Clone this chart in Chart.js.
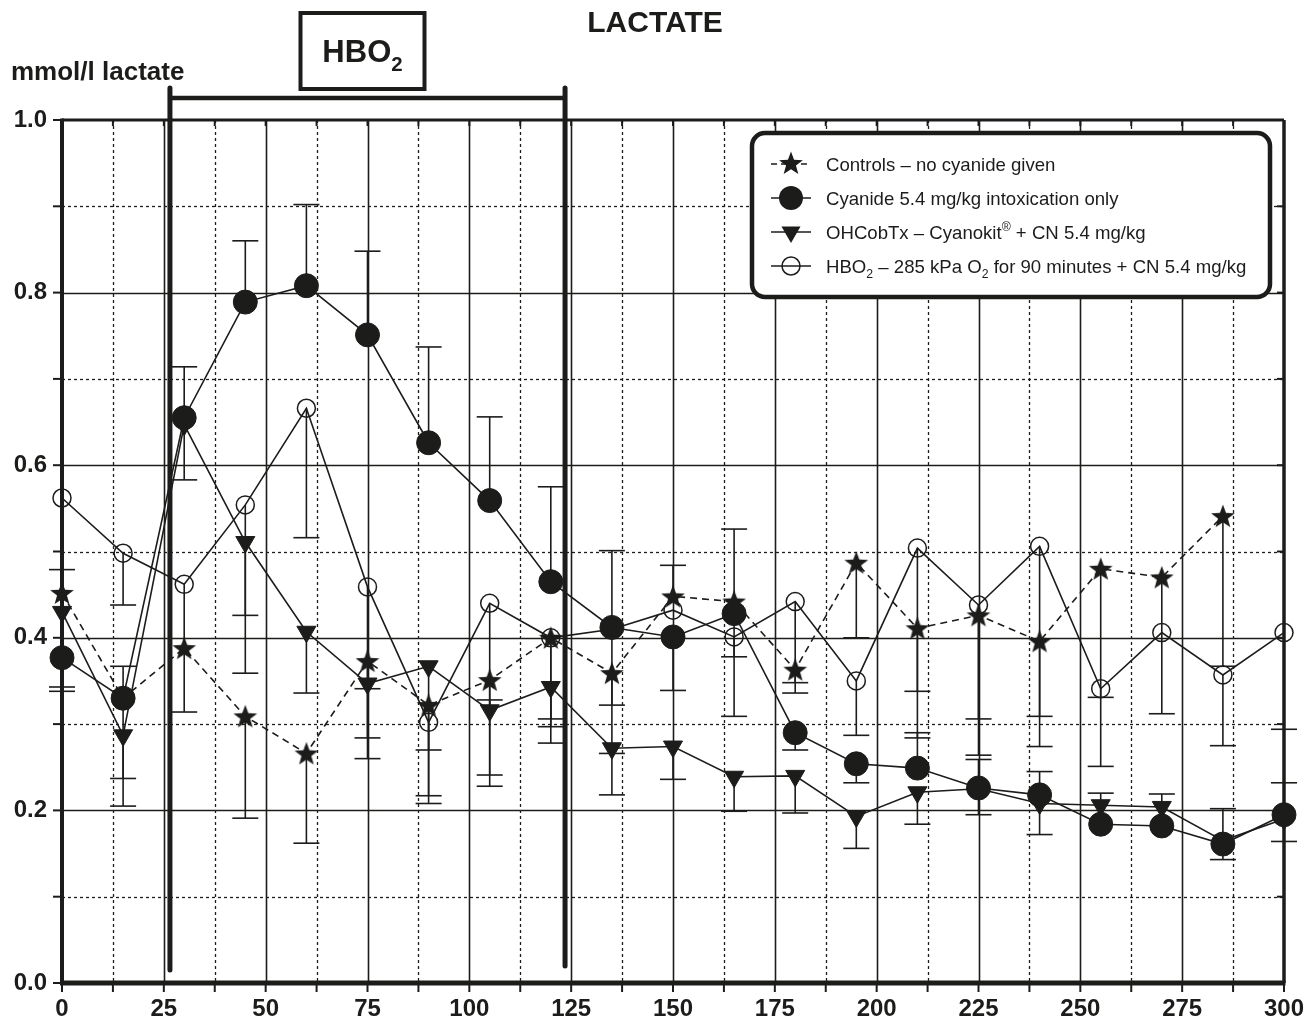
<!DOCTYPE html>
<html>
<head>
<meta charset="utf-8">
<script src="https://cdn.jsdelivr.net/npm/chart.js@4.4.1/dist/chart.umd.min.js"></script>
<style>
html,body{margin:0;padding:0;background:#fff;}
canvas{display:block;}
</style>
</head>
<body>
<canvas id="c" width="1307" height="1026"></canvas>
<script>
// ---------------- DATA ----------------
const times = [0,15,30,45,60,75,90,105,120,135,150,165,180,195,210,225,240,255,270,285,300];
const xTickLabels = [0,25,50,75,100,125,150,175,200,225,250,275,300];
const yTickLabels = ['0.0','0.2','0.4','0.6','0.8','1.0'];

const controls    = [0.452,0.330,0.388,0.309,0.266,0.373,0.322,0.351,0.400,0.359,0.448,0.442,0.363,0.487,0.411,0.426,0.396,0.480,0.470,0.541,null];
const controlsErr = [0.479,0.237,null,0.191,0.162,0.260,0.217,0.228,0.306,0.322,0.484,0.378,0.348,0.400,0.338,0.306,0.309,0.251,0.312,0.367,null];

const cyanide     = [0.377,0.330,0.655,0.789,0.808,0.751,0.626,0.559,0.465,0.412,0.401,0.428,0.290,0.254,0.249,0.226,0.218,0.184,0.182,0.161,0.195];
const cyanideErr  = [0.343,0.367,0.714,0.860,0.902,0.848,0.737,0.656,0.575,0.501,0.339,0.526,0.270,0.232,0.290,0.259,0.245,null,null,0.143,0.232];

const ohcob       = [0.430,0.287,0.647,0.511,0.407,0.347,0.367,0.316,0.343,0.272,0.274,0.239,0.240,0.193,0.221,0.225,0.208,0.206,0.204,0.165,0.190];
const ohcobErr    = [0.338,0.205,0.583,0.359,0.336,0.341,0.270,0.328,0.278,0.218,0.236,0.199,0.197,0.156,0.184,0.195,0.172,0.220,0.219,0.202,0.164];

const hbo         = [0.562,0.498,0.462,0.554,0.666,0.459,0.302,0.440,0.400,0.410,0.432,0.401,0.442,0.350,0.504,0.438,0.506,0.341,0.406,0.357,0.406];
const hboErr      = [null,0.438,0.314,0.426,0.516,0.284,0.208,0.241,0.297,0.266,null,0.309,0.336,0.287,0.284,0.264,0.274,0.331,null,0.275,0.294];

const hboPeriod = [26.5, 123.5];   // HBO2 treatment bracket (minutes)

const seriesLabels = [
  [{t:'Controls – no cyanide given'}],
  [{t:'Cyanide 5.4 mg/kg intoxication only'}],
  [{t:'OHCobTx – Cyanokit'},{t:'®',sup:true},{t:' + CN 5.4 mg/kg'}],
  [{t:'HBO'},{t:'2',sub:true},{t:' – 285 kPa O'},{t:'2',sub:true},{t:' for 90 minutes + CN 5.4 mg/kg'}]
];
const titleText = 'LACTATE';
const yAxisTitle = 'mmol/l lactate';

// ---------------- STYLE ----------------
const FONT = '"Liberation Sans", Arial, Helvetica, sans-serif';
const INK = '#1c1c1b';

function starPath(ctx, cx, cy, R, r) {
  ctx.beginPath();
  for (let i = 0; i < 10; i++) {
    const rad = i % 2 === 0 ? R : r;
    const a = -Math.PI / 2 + i * Math.PI / 5;
    const px = cx + rad * Math.cos(a), py = cy + rad * Math.sin(a);
    if (i === 0) ctx.moveTo(px, py); else ctx.lineTo(px, py);
  }
  ctx.closePath();
}
const starImg = document.createElement('canvas');
starImg.width = 28; starImg.height = 28;
{
  const s = starImg.getContext('2d');
  s.fillStyle = INK;
  starPath(s, 14, 15, 12.5, 5.2);
  s.fill();
}

function drawRich(ctx, segs, x, y, size, weight, measureOnly) {
  let cx = x;
  for (const s of segs) {
    const fs = (s.sub || s.sup) ? size * 0.66 : size;
    ctx.font = `${weight} ${fs}px ${FONT}`;
    const dy = s.sub ? size * 0.28 : (s.sup ? -size * 0.42 : 0);
    if (!measureOnly) ctx.fillText(s.t, cx, y + dy);
    cx += ctx.measureText(s.t).width;
  }
  return cx - x;
}

const mk = arr => times.map((t, i) => ({x: t, y: arr[i]}));

// ---------------- PLUGINS ----------------
const gridPlugin = {
  id: 'customGrid',
  beforeDatasetsDraw(chart) {
    const {ctx, chartArea: {left, right, top, bottom}, scales: {x, y}} = chart;
    ctx.save();
    ctx.strokeStyle = INK;
    // vertical grid
    for (let v = 12.5; v < 300; v += 12.5) {
      const px = Math.round(x.getPixelForValue(v)) + 0.5;
      const solid = Math.abs(v % 25) < 1e-6;
      ctx.lineWidth = solid ? 1.6 : 1.3;
      ctx.setLineDash(solid ? [] : [3, 3]);
      ctx.beginPath(); ctx.moveTo(px, top); ctx.lineTo(px, bottom); ctx.stroke();
    }
    // horizontal grid
    for (let k = 1; k < 10; k++) {
      const py = Math.round(y.getPixelForValue(k / 10)) + 0.5;
      const solid = k % 2 === 0;
      ctx.lineWidth = solid ? 1.6 : 1.3;
      ctx.setLineDash(solid ? [] : [3, 3]);
      ctx.beginPath(); ctx.moveTo(left, py); ctx.lineTo(right, py); ctx.stroke();
    }
    ctx.setLineDash([]);
    // ticks
    ctx.lineWidth = 2;
    for (let k = 0; k <= 10; k++) {
      const py = y.getPixelForValue(k / 10);
      ctx.beginPath(); ctx.moveTo(left - 9, py); ctx.lineTo(left, py); ctx.stroke();
      ctx.beginPath(); ctx.moveTo(right - 7, py); ctx.lineTo(right, py); ctx.stroke();
    }
    for (let v = 0; v <= 300; v += 12.5) {
      const px = x.getPixelForValue(v);
      ctx.beginPath(); ctx.moveTo(px, bottom); ctx.lineTo(px, bottom + 9); ctx.stroke();
      ctx.beginPath(); ctx.moveTo(px, top); ctx.lineTo(px, top + 6); ctx.stroke();
    }
    // frame
    ctx.lineWidth = 3;
    ctx.beginPath(); ctx.moveTo(left, top); ctx.lineTo(right, top); ctx.stroke();
    ctx.lineWidth = 3.5;
    ctx.beginPath(); ctx.moveTo(right, top); ctx.lineTo(right, bottom); ctx.stroke();
    ctx.lineWidth = 4;
    ctx.beginPath(); ctx.moveTo(left, top - 1.5); ctx.lineTo(left, bottom); ctx.stroke();
    ctx.lineWidth = 5;
    ctx.beginPath(); ctx.moveTo(left - 2, bottom); ctx.lineTo(right + 1.5, bottom); ctx.stroke();

    // error bars
    const series = [[controls, controlsErr], [cyanide, cyanideErr], [ohcob, ohcobErr], [hbo, hboErr]];
    ctx.lineWidth = 1.6;
    for (const [vals, errs] of series) {
      for (let i = 0; i < times.length; i++) {
        if (vals[i] == null || errs[i] == null) continue;
        const px = x.getPixelForValue(times[i]);
        const p1 = y.getPixelForValue(vals[i]);
        const p2 = y.getPixelForValue(errs[i]);
        ctx.beginPath(); ctx.moveTo(px, p1); ctx.lineTo(px, p2); ctx.stroke();
        ctx.beginPath(); ctx.moveTo(px - 13, p2); ctx.lineTo(px + 13, p2); ctx.stroke();
      }
    }
    ctx.restore();
  },
  afterDatasetsDraw(chart) {
    const {ctx, scales: {x, y}} = chart;
    ctx.save();
    ctx.strokeStyle = INK;
    ctx.fillStyle = INK;
    // HBO2 bracket
    const xa = x.getPixelForValue(hboPeriod[0]);
    const xb = x.getPixelForValue(hboPeriod[1]);
    const yb = y.getPixelForValue(0.015);
    ctx.lineWidth = 5;
    ctx.lineCap = 'round';
    ctx.beginPath(); ctx.moveTo(xa, 88); ctx.lineTo(xa, yb); ctx.stroke();
    ctx.beginPath(); ctx.moveTo(xb, 88); ctx.lineTo(xb, yb - 4); ctx.stroke();
    ctx.lineCap = 'butt';
    ctx.lineWidth = 4.5;
    ctx.beginPath(); ctx.moveTo(xa, 98); ctx.lineTo(xb, 98); ctx.stroke();
    // HBO2 box
    const mid = (xa + xb) / 2 - 5;
    ctx.lineWidth = 4;
    ctx.strokeRect(mid - 62, 13, 124, 76);
    const hboSegs = [{t:'HBO'},{t:'2',sub:true}];
    ctx.textBaseline = 'alphabetic';
    const w = drawRich(ctx, hboSegs, 0, 0, 31, 'bold', true);
    drawRich(ctx, hboSegs, mid - w / 2, 62, 31, 'bold');

    // title
    ctx.font = `bold 30px ${FONT}`;
    ctx.textAlign = 'center';
    ctx.fillText(titleText, 655, 32);
    ctx.textAlign = 'left';
    ctx.font = `bold 26px ${FONT}`;
    ctx.fillText(yAxisTitle, 11, 80);

    // legend
    const bx = 752, by = 133, bw = 518, bh = 164, r = 13;
    ctx.beginPath();
    ctx.moveTo(bx + r, by);
    ctx.arcTo(bx + bw, by, bx + bw, by + bh, r);
    ctx.arcTo(bx + bw, by + bh, bx, by + bh, r);
    ctx.arcTo(bx, by + bh, bx, by, r);
    ctx.arcTo(bx, by, bx + bw, by, r);
    ctx.closePath();
    ctx.fillStyle = '#fff';
    ctx.fill();
    ctx.lineWidth = 4.5;
    ctx.stroke();
    ctx.fillStyle = INK;
    const rows = [164, 198, 232, 266];
    for (let i = 0; i < 4; i++) {
      const cy = rows[i];
      ctx.lineWidth = 1.6;
      ctx.setLineDash(i === 0 ? [6, 4] : []);
      ctx.beginPath(); ctx.moveTo(771, cy); ctx.lineTo(811, cy); ctx.stroke();
      ctx.setLineDash([]);
      const mx = 791;
      if (i === 0) {
        ctx.drawImage(starImg, mx - 14, cy - 15);
      } else if (i === 1) {
        ctx.beginPath(); ctx.arc(mx, cy, 12, 0, Math.PI * 2); ctx.fill();
      } else if (i === 2) {
        const rr = 11;
        ctx.beginPath();
        ctx.moveTo(mx - rr * 0.866, cy - rr * 0.5);
        ctx.lineTo(mx + rr * 0.866, cy - rr * 0.5);
        ctx.lineTo(mx, cy + rr);
        ctx.closePath(); ctx.fill();
      } else {
        ctx.lineWidth = 1.5;
        ctx.beginPath(); ctx.arc(mx, cy, 9, 0, Math.PI * 2); ctx.stroke();
      }
      drawRich(ctx, seriesLabels[i], 826, cy + 7, 18.6, 'normal');
    }
    ctx.restore();
  }
};

// ---------------- CHART ----------------
const lineBase = {borderColor: INK, borderWidth: 1.6, tension: 0, clip: false, spanGaps: false, fill: false};

new Chart(document.getElementById('c'), {
  type: 'line',
  data: {
    datasets: [
      Object.assign({}, lineBase, {
        label: 'Controls – no cyanide given', data: mk(controls), borderDash: [7, 5],
        pointStyle: starImg, pointRadius: 12, order: 1
      }),
      Object.assign({}, lineBase, {
        label: 'Cyanide 5.4 mg/kg intoxication only', data: mk(cyanide),
        pointStyle: 'circle', pointRadius: 12, pointBackgroundColor: INK, pointBorderColor: INK, pointBorderWidth: 1, order: 0
      }),
      Object.assign({}, lineBase, {
        label: 'OHCobTx – Cyanokit® + CN 5.4 mg/kg', data: mk(ohcob),
        pointStyle: 'triangle', pointRotation: 180, pointRadius: 11, pointBackgroundColor: INK, pointBorderColor: INK, pointBorderWidth: 1, order: 2
      }),
      Object.assign({}, lineBase, {
        label: 'HBO2 – 285 kPa O2 for 90 minutes + CN 5.4 mg/kg', data: mk(hbo),
        pointStyle: 'circle', pointRadius: 9, pointBackgroundColor: 'rgba(255,255,255,0)', pointBorderColor: INK, pointBorderWidth: 1.5, order: 3
      })
    ]
  },
  options: {
    responsive: false,
    devicePixelRatio: 1,
    animation: false,
    events: [],
    layout: {padding: {top: 120, right: 23, left: 0, bottom: 0}},
    plugins: {legend: {display: false}, tooltip: {enabled: false}, title: {display: false}},
    scales: {
      x: {
        type: 'linear', min: 0, max: 300,
        afterBuildTicks: s => { s.ticks = xTickLabels.map(v => ({value: v})); },
        ticks: {color: INK, font: {family: FONT, size: 24, weight: 'bold'}, padding: 12, maxRotation: 0, autoSkip: false,
                callback: v => String(v)},
        grid: {display: false, drawTicks: false},
        border: {display: false},
        afterFit: s => { s.height = 43; s.paddingLeft = 0; s.paddingRight = 0; }
      },
      y: {
        type: 'linear', min: 0, max: 1,
        afterBuildTicks: s => { s.ticks = yTickLabels.map(v => ({value: parseFloat(v)})); },
        ticks: {color: INK, font: {family: FONT, size: 24, weight: 'bold'}, padding: 15, autoSkip: false,
                callback: (v, i) => yTickLabels[i]},
        grid: {display: false, drawTicks: false},
        border: {display: false},
        afterFit: s => { s.width = 62; s.paddingTop = 0; s.paddingBottom = 0; }
      }
    }
  },
  plugins: [gridPlugin]
});
</script>
</body>
</html>
